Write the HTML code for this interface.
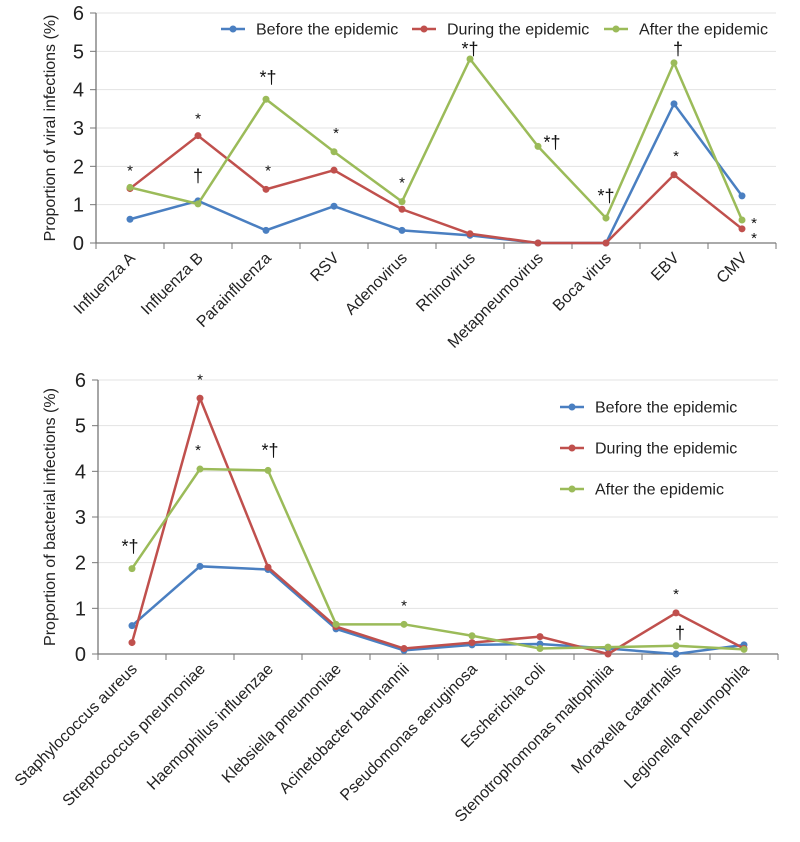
<!DOCTYPE html>
<html><head><meta charset="utf-8"><style>
body{margin:0;background:#fff;font-family:"Liberation Sans",Arial,sans-serif}
svg text{font-family:"Liberation Sans",Arial,sans-serif}
</style></head><body>
<svg id="s" width="800" height="837"></svg>
<script>
const topCats=["Influenza A","Influenza B","Parainfluenza","RSV","Adenovirus","Rhinovirus","Metapneumovirus","Boca virus","EBV","CMV"];
const topBefore=[0.62,1.1,0.33,0.96,0.33,0.2,0,0,3.63,1.23];
const topDuring=[1.42,2.8,1.4,1.9,0.88,0.24,0,0,1.78,0.37];
const topAfter=[1.45,1.02,3.75,2.38,1.08,4.8,2.52,0.65,4.7,0.6];
const botCats=["Staphylococcus aureus","Streptococcus pneumoniae","Haemophilus influenzae","Klebsiella pneumoniae","Acinetobacter baumannii","Pseudomonas aeruginosa","Escherichia coli","Stenotrophomonas maltophilia","Moraxella catarrhalis","Legionella pneumophila"];
const botBefore=[0.62,1.92,1.85,0.55,0.08,0.2,0.22,0.12,0,0.2];
const botDuring=[0.25,5.6,1.9,0.6,0.12,0.25,0.38,0,0.9,0.12];
const botAfter=[1.87,4.05,4.02,0.65,0.65,0.4,0.12,0.15,0.18,0.1];
const yTicks=[0,1,2,3,4,5,6];
const seriesNames=["Before the epidemic","During the epidemic","After the epidemic"];
const colors=["#4a7fc1","#c0504d","#9bbb59"];
// annotations: [category index, series index, text, dx, dy]
const topNotes=[[0,2,"*",0,-12],[1,1,"*",0,-12],[1,2,"†",0,-22],[2,2,"*†",2,-16],[2,1,"*",2,-14],[3,2,"*",2,-14],[4,2,"*",0,-14],[5,2,"*†",0,-4],[6,2,"*†",14,2],[7,2,"*†",0,-16],[8,2,"†",4,-8],[8,1,"*",2,-14],[9,2,"*",12,8],[9,1,"*",12,14]];
const botNotes=[[0,2,"*†",-2,-16],[1,1,"*",0,-14],[1,2,"*",-2,-14],[2,2,"*†",2,-14],[4,2,"*",0,-14],[8,1,"*",0,-14],[8,2,"†",4,-7]];
const NS="http://www.w3.org/2000/svg";
const svg=document.getElementById('s');
function el(t,a,p){const e=document.createElementNS(NS,t);for(const k in a)e.setAttribute(k,a[k]);(p||svg).appendChild(e);return e;}
function chart(cfg){
  const g=el('g',{});
  
  
  const x0=cfg.x0,step=68,yTop=cfg.yTop,yBot=cfg.yBot;
  const X=i=>x0+step*(i+0.5);
  const Y=v=>yBot-(yBot-yTop)*v/6;
  yTicks.forEach(t=>{
    if(t>0){const gl=el('line',{x1:x0,x2:x0+step*10,y1:Y(t),y2:Y(t),stroke:'#e3e3e3','stroke-width':1},g);
    
    }
    el('line',{x1:x0-6,x2:x0,y1:Y(t),y2:Y(t),stroke:'#777'},g);
    const tl=el('text',{x:x0-12,y:Y(t)+7,'text-anchor':'end','font-size':20,fill:'#222'},g);
    tl.textContent=t;
    
    
  });
  el('line',{x1:x0,x2:x0,y1:yTop,y2:yBot,stroke:'#777','stroke-width':1.3},g);
  el('line',{x1:x0,x2:x0+step*10,y1:yBot,y2:yBot,stroke:'#777','stroke-width':1.3},g);
  for(let i=0;i<=10;i++)el('line',{x1:x0+step*i,x2:x0+step*i,y1:yBot,y2:yBot+6,stroke:'#777'},g);
  cfg.cats.forEach((c,i)=>{
    const t=el('text',{x:X(i)+6,y:yBot+16,'text-anchor':'end','font-size':16,fill:'#222',transform:`rotate(-45 ${X(i)+6} ${yBot+16})`},g);
    t.textContent=c;
    
    
  });
  const yt=el('text',{x:0,y:0,'text-anchor':'middle','font-size':16,fill:'#222',transform:`translate(${cfg.titleX} ${(yTop+yBot)/2}) rotate(-90)`},g);
  yt.textContent=cfg.title;
  
  
  cfg.series.forEach((arr,si)=>{
    const pl=el('polyline',{points:arr.map((v,i)=>X(i)+','+Y(v)).join(' '),fill:'none',stroke:colors[si],'stroke-width':2.5},g);
    
    
    arr.forEach((v,i)=>{
      const c=el('circle',{cx:X(i),cy:Y(v),r:3.5,fill:colors[si]},g);
      
      
    });
  });
  cfg.notes.forEach(n=>{
    const v=cfg.series[n[1]][n[0]];
    const t=el('text',{x:X(n[0])+n[3],y:Y(v)+n[4],'text-anchor':'middle','font-size':n[2]==="*"?15:18,fill:'#111'},g);
    t.textContent=n[2];
    
    
  });
  seriesNames.forEach((nm,si)=>{
    const lg=el('g',{},g);
    
    
    const p=cfg.legend(si);
    el('line',{x1:p[0],x2:p[0]+cfg.lw,y1:p[1],y2:p[1],stroke:colors[si],'stroke-width':2.5},lg);
    el('circle',{cx:p[0]+cfg.lw/2,cy:p[1],r:3.5,fill:colors[si]},lg);
    const t=el('text',{x:p[0]+cfg.lw+cfg.lgap,y:p[1]+5.5,'font-size':cfg.lf,fill:'#222'},lg);
    t.textContent=nm;
  });
}
chart({name:'viral-chart',x0:96,yTop:13,yBot:243,cats:topCats,series:[topBefore,topDuring,topAfter],notes:topNotes,title:'Proportion of viral infections (%)',titleX:55,
  lw:24,lgap:11,lf:16,legend:si=>[[221,29],[412,29],[604,29]][si]});
chart({name:'bacterial-chart',x0:98,yTop:380,yBot:654,cats:botCats,series:[botBefore,botDuring,botAfter],notes:botNotes,title:'Proportion of bacterial infections (%)',titleX:55,
  lw:24,lgap:11,lf:16,legend:si=>[560,407+41*si]});
</script>
</body></html>
